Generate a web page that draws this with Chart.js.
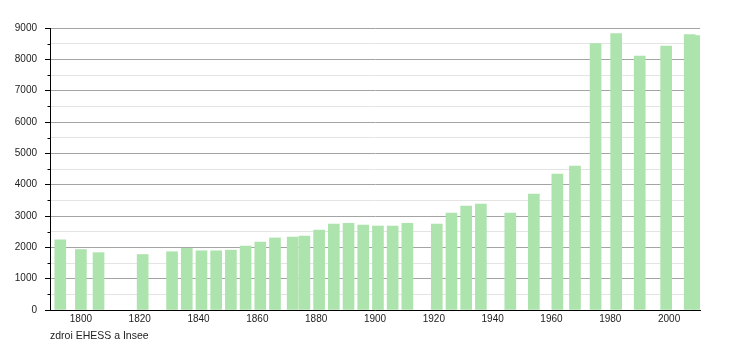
<!DOCTYPE html>
<html>
<head>
<meta charset="utf-8">
<script src="https://cdn.jsdelivr.net/npm/chart.js@4/dist/chart.umd.min.js"></script>
<style>
html,body{margin:0;padding:0;background:#fff;}
canvas{display:block;}
</style>
</head>
<body>
<canvas id="c" width="750" height="340"></canvas>
<script>
const years = [1793,1800,1806,1821,1831,1836,1841,1846,1851,1856,1861,1866,1872,1876,1881,1886,1891,1896,1901,1906,1911,1921,1926,1931,1936,1946,1954,1962,1968,1975,1982,1990,1999,2007,2010];
const population = [2240,1930,1830,1770,1860,1970,1890,1890,1910,2040,2170,2300,2330,2360,2550,2740,2770,2710,2680,2680,2770,2740,3090,3315,3380,3090,3700,4340,4590,8500,8820,8100,8420,8790,8760];
const xTicks = [1800,1820,1840,1860,1880,1900,1920,1940,1960,1980,2000];
const sourceText = "zdroi EHESS a Insee";

const FONT = "'Liberation Sans', Arial, sans-serif";

const extrasPlugin = {
  id: 'extras',
  afterDraw(chart) {
    const ctx = chart.ctx;
    const ys = chart.scales.y;
    ctx.save();
    // short minor ticks
    ctx.strokeStyle = '#000';
    ctx.lineWidth = 1;
    ys.ticks.forEach(t => {
      if (t.value % 1000 !== 0) {
        const py = Math.round(ys.getPixelForValue(t.value)) + 0.5;
        ctx.beginPath();
        ctx.moveTo(ys.right - 2.5, py);
        ctx.lineTo(ys.right, py);
        ctx.stroke();
      }
    });
    ctx.font = "10.5px " + FONT;
    ctx.fillStyle = "#222";
    ctx.textAlign = "left";
    ctx.textBaseline = "alphabetic";
    ctx.fillText(sourceText, 50, 339);
    ctx.restore();
  }
};

new Chart(document.getElementById('c'), {
  type: 'bar',
  data: {
    datasets: [{
      data: years.map((y, i) => ({x: y, y: population[i]})),
      backgroundColor: '#ade3ad',
      borderWidth: 0,
      barThickness: 11
    }]
  },
  options: {
    responsive: false,
    animation: false,
    layout: {padding: {top: 28, right: 50, bottom: 0, left: 0}},
    plugins: {legend: {display: false}, tooltip: {enabled: false}},
    scales: {
      x: {
        type: 'linear',
        offset: false,
        min: 1789.5,
        max: 2010.5,
        afterBuildTicks: s => { s.ticks = xTicks.map(v => ({value: v})); },
        afterFit: s => { s.height = 30; },
        grid: {display: true, drawOnChartArea: false, drawTicks: false},
        border: {color: '#000', width: 1},
        ticks: {
          font: {family: FONT, size: 10},
          color: '#222',
          padding: 3,
          maxRotation: 0,
          autoSkip: false,
          callback: v => String(v)
        }
      },
      y: {
        min: 0,
        max: 9000,
        afterFit: s => { s.width = 50; },
        grid: {
          color: c => (c.tick && c.tick.value % 1000 === 0) ? '#a4a4a4' : '#e4e4e4',
          tickColor: c => (c.tick && c.tick.value % 1000 === 0) ? '#000' : 'rgba(0,0,0,0)',
          tickLength: 5,
          lineWidth: 1
        },
        border: {color: '#000', width: 1},
        ticks: {
          stepSize: 500,
          font: {family: FONT, size: 10},
          color: '#222',
          padding: 8,
          autoSkip: false,
          callback: v => (v % 1000 === 0 ? String(v) : '')
        }
      }
    }
  },
  plugins: [extrasPlugin]
});
</script>
</body>
</html>
